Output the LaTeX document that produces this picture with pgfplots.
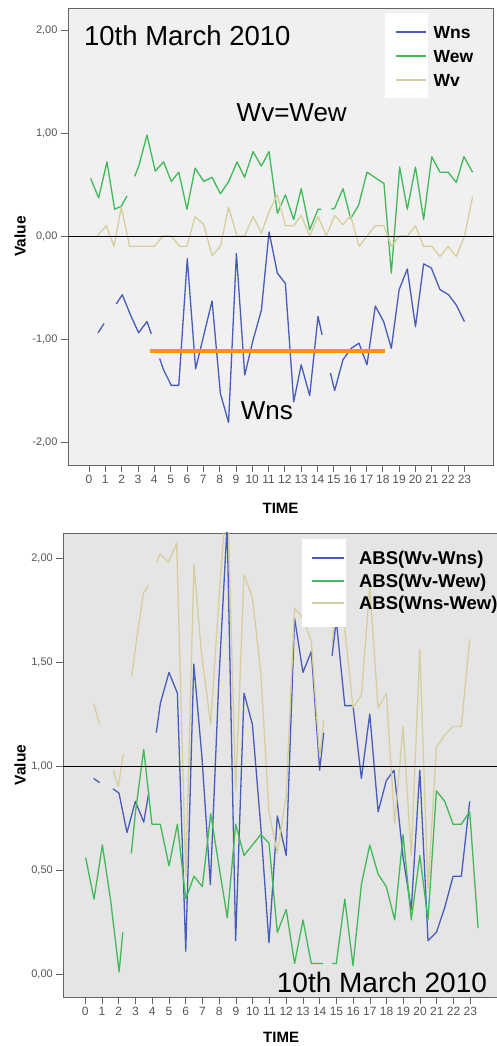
\documentclass[border=0pt]{standalone}
\usepackage{fontspec}
\setmainfont{Liberation Sans}
\usepackage{pgfplots}
\pgfplotsset{compat=1.18}

\definecolor{cblue}{RGB}{72,92,185}
\definecolor{cgreen}{RGB}{64,186,88}
\definecolor{ctan}{RGB}{214,206,158}
\definecolor{corange}{RGB}{255,150,0}
\definecolor{bgtop}{RGB}{240,240,240}
\definecolor{bgbot}{RGB}{229,229,229}
\definecolor{framec}{RGB}{100,100,100}
\definecolor{tickc}{RGB}{85,85,85}

\pgfplotsset{spss/.style={
  scale only axis,
  axis line style={framec, line width=0.9pt},
  tick align=outside,
  xtick pos=bottom, ytick pos=left,
  major tick length=7pt,
  tick style={framec, line width=0.8pt},
  xtick={0,1,2,3,4,5,6,7,8,9,10,11,12,13,14,15,16,17,18,19,20,21,22,23},
  xticklabels={0,1,2,3,4,5,6,7,8,9,10,11,12,13,14,15,16,17,18,19,20,21,22,23},
  x tick label style={font=\fontsize{12}{12}\selectfont, text=tickc},
  y tick label style={font=\fontsize{11}{11}\selectfont, text=tickc},
  xlabel={TIME}, ylabel={Value},
  xlabel style={font=\bfseries\fontsize{15}{15}\selectfont, anchor=center},
  ylabel style={font=\bfseries\fontsize{15.5}{15.5}\selectfont, anchor=center},
  unbounded coords=jump,
  legend cell align=left,
  every axis plot/.append style={line width=1.3pt, line join=round},
}}

\begin{document}
\begin{tikzpicture}
\useasboundingbox (0pt,0pt) rectangle (497pt,1046pt);
\begin{scope}
\clip (0pt,0pt) rectangle (497pt,1046pt);
% ---------------- top panel ----------------
\begin{axis}[spss,
  at={(68pt,581pt)}, anchor=south west,
  width=425pt, height=457pt,
  xmin=-1.287, xmax=24.75, ymin=-2.223, ymax=2.214,
  ytick={-2,-1,0,1,2},
  yticklabels={{-2,00},{-1,00},{0,00},{1,00},{2,00}},
  xlabel style={at={(axis description cs:0.5,-0.0941)}},
  ylabel style={at={(axis description cs:-0.113,0.5)}},
  axis background/.style={fill=bgtop},
  legend style={at={(axis cs:18.75,2.041)}, anchor=north west, draw=none, fill=none,
    inner sep=0pt, outer sep=0pt, row sep=11.5pt, column sep=4pt,
    font=\bfseries\fontsize{17.5}{17.5}\selectfont,
    nodes={inner xsep=3pt, inner ysep=0pt, text height=12.5pt, text depth=0pt}},
  legend image code/.code={\draw[#1, line width=1.6pt] (0pt,0pt) -- (30pt,0pt);},
]
\addplot[cblue] coordinates {
(0.55,-0.94) (0.92,-0.85) (1.3,nan) (1.67,-0.66) (2.04,-0.57) (2.55,-0.77) (3.04,-0.94) (3.55,-0.83) (3.82,-0.95) (4.1,nan)
(4.33,-1.19) (4.57,-1.30) (5.04,-1.45) (5.5,-1.45) (6.02,-0.22) (6.53,-1.29) (7.05,-0.95) (7.54,-0.63) (8.05,-1.53) (8.55,-1.81)
(9.03,-0.17) (9.54,-1.35) (10.05,-1.01) (10.56,-0.72) (11.03,0.04) (11.54,-0.36) (12.03,-0.46) (12.54,-1.61) (13.0,-1.25)
(13.52,-1.55) (14.03,-0.78) (14.28,-0.96) (14.5,nan) (14.79,-1.33) (15.05,-1.50) (15.56,-1.20) (16.07,-1.09) (16.54,-1.04)
(17.03,-1.25) (17.54,-0.68) (18.05,-0.83) (18.52,-1.09) (19.0,-0.52) (19.5,-0.32) (20.0,-0.88) (20.5,-0.27) (20.97,-0.31)
(21.5,-0.52) (22.03,-0.57) (22.5,-0.67) (23.0,-0.83)};
\addlegendentry{Wns}
\addplot[cgreen] coordinates {
(0.1,0.56) (0.59,0.37) (1.1,0.72) (1.57,0.26) (1.98,0.29) (2.33,0.39) (2.55,nan) (2.8,0.58) (3.05,0.68) (3.55,0.98) (4.06,0.63)
(4.57,0.72) (5.04,0.53) (5.5,0.62) (6.0,0.26) (6.5,0.66) (7.03,0.53) (7.54,0.57) (8.05,0.41) (8.56,0.53) (9.07,0.72) (9.53,0.57)
(10.05,0.82) (10.56,0.68) (11.03,0.82) (11.54,0.22) (12.03,0.40) (12.54,0.16) (13.0,0.46) (13.52,0.06) (14.03,0.26) (14.23,0.26)
(14.5,nan) (14.85,0.26) (15.05,0.27) (15.56,0.46) (16.03,0.17) (16.52,0.30) (17.03,0.62) (17.5,0.57) (18.07,0.51) (18.52,-0.36)
(19.03,0.67) (19.5,0.26) (20.0,0.67) (20.5,0.16) (21.0,0.77) (21.5,0.62) (22.0,0.62) (22.5,0.52) (22.97,0.77) (23.5,0.62)};
\addlegendentry{Wew}
\addplot[ctan] coordinates {
(0.5,0.0) (1.06,0.10) (1.53,-0.10) (1.98,0.28) (2.49,-0.10) (3.0,-0.10) (3.55,-0.10) (4.0,-0.10) (4.53,0.0) (5.04,0.0)
(5.55,-0.10) (6.0,-0.10) (6.5,0.19) (7.03,0.11) (7.54,-0.19) (8.05,-0.10) (8.55,0.28) (9.07,0.0) (9.53,0.0) (10.05,0.19)
(10.56,0.03) (11.07,0.25) (11.54,0.40) (12.03,0.10) (12.54,0.10) (13.0,0.20) (13.52,0.0) (14.03,0.19) (14.54,0.0) (15.05,0.20)
(15.56,0.11) (16.03,0.20) (16.54,-0.10) (17.03,0.0) (17.54,0.10) (18.07,0.10) (18.52,-0.10) (19.03,0.0) (19.5,0.0) (20.0,0.10)
(20.5,-0.10) (21.0,-0.10) (21.5,-0.20) (22.0,-0.10) (22.5,-0.20) (23.0,0.0) (23.5,0.38)};
\addlegendentry{Wv}
\addplot[forget plot, black, line width=0.8pt] coordinates {(-2,0) (26,0)};
\addplot[forget plot, corange, line width=4pt] coordinates {(3.72,-1.12) (18.16,-1.12)};
\fill[white] (axis cs:18.14,2.165) rectangle (axis cs:20.77,1.34);
\node[anchor=base west, inner sep=0pt, font=\fontsize{27.5}{27.5}\selectfont] at (axis cs:-0.31,1.854) {10th March 2010};
\node[anchor=base, inner sep=0pt, font=\fontsize{26}{26}\selectfont] at (axis cs:12.42,1.11) {Wv=Wew};
\node[anchor=base, inner sep=0pt, font=\fontsize{26}{26}\selectfont] at (axis cs:10.89,-1.777) {Wns};
\end{axis}
% ---------------- bottom panel ----------------
\begin{axis}[spss,
  at={(63.3pt,49pt)}, anchor=south west,
  width=435.7pt, height=464pt,
  xmin=-1.314, xmax=24.71, ymin=-0.1106, ymax=2.120,
  ytick={0,0.5,1,1.5,2},
  yticklabels={{0,00},{0,50},{1,00},{1,50},{2,00}},
  xlabel style={at={(axis description cs:0.5,-0.0862)}},
  ylabel style={at={(axis description cs:-0.0994,0.5)}},
  axis background/.style={fill=bgbot},
  legend style={at={(axis cs:13.51,2.03)}, anchor=north west, draw=none, fill=none,
    inner sep=0pt, outer sep=0pt, row sep=9.5pt, column sep=12pt,
    font=\bfseries\fontsize{18.5}{18.5}\selectfont,
    nodes={inner xsep=2pt, inner ysep=0pt, text height=13pt, text depth=0pt}},
  legend image code/.code={\draw[#1, line width=1.6pt] (0pt,0pt) -- (32pt,0pt);},
]
\addplot[cblue] coordinates {
(0.5,0.94) (0.86,0.92) (1.25,nan) (1.65,0.89) (2.01,0.87) (2.49,0.68) (2.99,0.83) (3.49,0.73) (3.79,0.87) (4.0,nan)
(4.24,1.16) (4.48,1.30) (5.0,1.45) (5.5,1.35) (6.0,0.11) (6.48,1.49) (6.97,1.04) (7.47,0.43) (7.97,1.40) (8.47,2.16)
(8.98,0.16) (9.48,1.35) (9.98,1.20) (10.47,0.72) (10.97,0.15) (11.47,0.76) (12.0,0.57) (12.5,1.71) (13.0,1.45) (13.5,1.55)
(14.0,0.98) (14.24,1.16) (14.5,nan) (14.74,1.53) (14.99,1.70) (15.5,1.29) (15.99,1.29) (16.49,0.94) (16.99,1.25) (17.49,0.78)
(17.98,0.93) (18.44,0.98) (18.98,0.56) (19.47,0.31) (19.98,0.98) (20.47,0.16) (20.97,0.20) (21.47,0.32) (21.97,0.47)
(22.46,0.47) (22.96,0.83)};
\addlegendentry{ABS(Wv-Wns)}
\addplot[cgreen] coordinates {
(0.02,0.56) (0.52,0.36) (1.02,0.62) (1.52,0.35) (2.02,0.01) (2.24,0.20) (2.5,nan) (2.75,0.58) (3.0,0.78) (3.49,1.08)
(3.98,0.72) (4.48,0.72) (5.0,0.52) (5.5,0.72) (6.0,0.36) (6.49,0.47) (6.99,0.42) (7.49,0.77) (7.98,0.52) (8.48,0.27)
(8.98,0.72) (9.48,0.57) (9.98,0.62) (10.48,0.67) (10.97,0.63) (11.47,0.20) (12.0,0.31) (12.5,0.05) (13.0,0.26) (13.5,0.05)
(14.0,0.05) (14.2,0.05) (14.5,nan) (14.74,0.05) (14.99,0.05) (15.5,0.36) (15.99,0.04) (16.49,0.43) (16.99,0.62) (17.49,0.48)
(17.98,0.42) (18.48,0.26) (18.98,0.67) (19.47,0.26) (19.98,0.57) (20.47,0.26) (20.97,0.88) (21.47,0.83) (21.97,0.72)
(22.46,0.72) (22.96,0.78) (23.46,0.22)};
\addlegendentry{ABS(Wv-Wew)}
\addplot[ctan] coordinates {
(0.5,1.30) (0.86,1.20) (1.25,nan) (1.67,0.98) (1.97,0.90) (2.27,1.06) (2.5,nan) (2.77,1.43) (3.07,1.61) (3.47,1.83) (3.77,1.87)
(4.0,nan) (4.26,1.98) (4.46,2.02) (4.96,1.98) (5.46,2.07) (6.0,0.47) (6.49,1.97) (6.93,1.55) (7.49,1.20) (7.98,1.80) (8.48,2.34)
(8.98,0.88) (9.48,1.92) (9.98,1.81) (10.48,1.45) (10.97,0.78) (11.47,0.58) (12.0,0.86) (12.5,1.76) (13.0,1.71) (13.5,1.60)
(14.0,1.04) (14.24,1.22) (14.5,nan) (14.74,1.59) (14.99,1.77) (15.5,1.66) (15.99,1.28) (16.49,1.34) (16.99,1.86) (17.49,1.28)
(17.98,1.35) (18.48,0.72) (18.98,1.19) (19.47,0.57) (19.98,1.56) (20.47,0.41) (20.97,1.09) (21.47,1.15) (21.97,1.19)
(22.46,1.19) (22.96,1.61)};
\addlegendentry{ABS(Wns-Wew)}
\addplot[forget plot, black, line width=0.8pt] coordinates {(-2,1) (26,1)};
\fill[white] (axis cs:12.94,2.091) rectangle (axis cs:15.57,1.668);
\node[anchor=base west, inner sep=0pt, font=\fontsize{28}{28}\selectfont] at (axis cs:11.43,-0.09) {10th March 2010};
\end{axis}
\end{scope}
\end{tikzpicture}
\end{document}
